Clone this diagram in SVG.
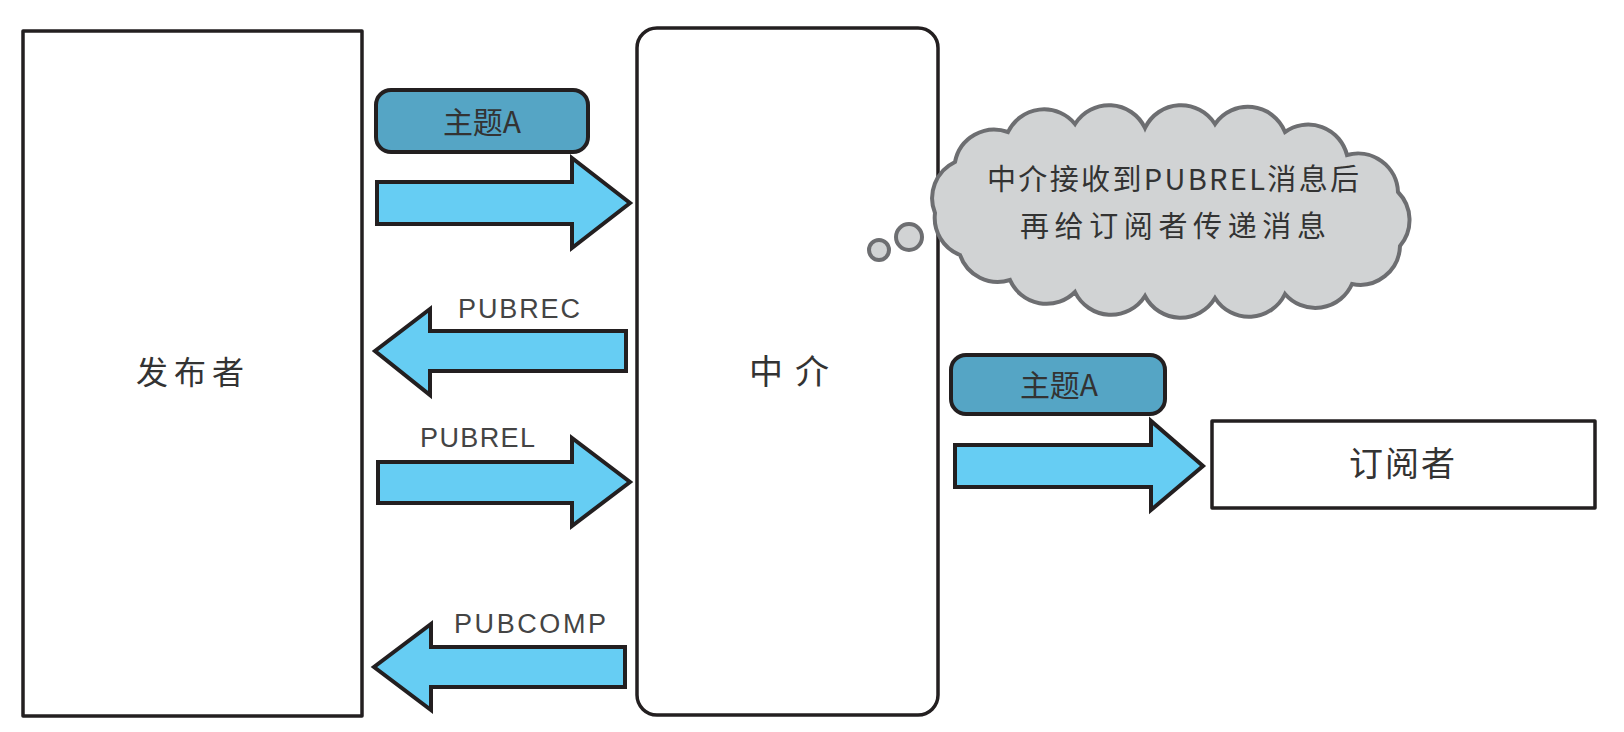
<svg xmlns="http://www.w3.org/2000/svg" width="1624" height="732" viewBox="0 0 1624 732">
<style>
.box{fill:#fff;stroke:#231f20;stroke-width:3.5;stroke-linejoin:round}
.arrow{fill:#66cdf3;stroke:#231f20;stroke-width:4;stroke-linejoin:miter}
.tag{fill:#55a5c5;stroke:#231f20;stroke-width:4}
.cjk{font-family:"Noto Sans CJK SC","Liberation Sans",sans-serif;fill:#333;text-anchor:middle}
.lat{font-family:"Liberation Sans","Noto Sans",sans-serif;fill:#444;font-size:27px}
.cloud{fill:#d1d3d4;stroke:#6d6e71;stroke-width:4}
</style>
<rect width="1624" height="732" fill="#fff"/>
<g id="publisher">
<rect class="box" x="23" y="31" width="339" height="685"/>
<text class="cjk" x="190" y="384" font-size="32" textLength="108" lengthAdjust="spacing">发布者</text>
</g>
<g id="broker">
<rect class="box" x="637" y="28" width="301" height="687" rx="20" ry="20"/>
<text class="cjk" x="789" y="384" font-size="34" textLength="80" lengthAdjust="spacing">中介</text>
</g>
<g id="subscriber">
<rect class="box" x="1212" y="421" width="383" height="87"/>
<text class="cjk" x="1402" y="476" font-size="34" textLength="106" lengthAdjust="spacing">订阅者</text>
</g>
<g id="thought">
<circle class="cloud" cx="879" cy="250" r="10"/>
<circle class="cloud" cx="909" cy="237" r="13"/>
<path class="cloud" d="M935,213 A40,40 0 0 1 955,162 A40,40 0 0 1 1008,132 A40,40 0 0 1 1075,124 A40,40 0 0 1 1145,128 A40,40 0 0 1 1215,124 A40,40 0 0 1 1285,132 A40,40 0 0 1 1347,155 A40,40 0 0 1 1398,192 A40,40 0 0 1 1400,246 A40,40 0 0 1 1352,284 A40,40 0 0 1 1285,294 A40,40 0 0 1 1215,298 A40,40 0 0 1 1145,296 A40,40 0 0 1 1075,292 A40,40 0 0 1 1010,280 A40,40 0 0 1 960,255 A40,40 0 0 1 935,213 Z"/>
<text class="cjk" x="1173" y="190" font-size="29" textLength="372" lengthAdjust="spacing">中介接收到PUBREL消息后</text>
<text class="cjk" x="1173" y="237" font-size="29" textLength="306" lengthAdjust="spacing">再给订阅者传递消息</text>
</g>
<g id="topicA1">
<rect class="tag" x="376" y="90" width="212" height="62" rx="15" ry="15"/>
<text class="cjk" x="482" y="133" font-size="30">主题A</text>
</g>
<g id="topicA2">
<rect class="tag" x="951" y="355" width="214" height="59" rx="15" ry="15"/>
<text class="cjk" x="1059" y="396" font-size="30">主题A</text>
</g>
<g id="connectors">
<polygon class="arrow" points="377,182 572,182 572,158 630,203 572,248 572,224 377,224"/>
<polygon class="arrow" points="626,331 430,331 430,309 375,351 430,395 430,371 626,371"/>
<polygon class="arrow" points="378,462 572,462 572,438 630,482 572,526 572,503 378,503"/>
<polygon class="arrow" points="625,647 431,647 431,624 374,667 431,710 431,687 625,687"/>
<polygon class="arrow" points="955,445 1151,445 1151,421 1203,466 1151,510 1151,487 955,487"/>
<text class="lat" x="458" y="318" textLength="122" lengthAdjust="spacing">PUBREC</text>
<text class="lat" x="420" y="447" textLength="115" lengthAdjust="spacing">PUBREL</text>
<text class="lat" x="454" y="633" textLength="152" lengthAdjust="spacing">PUBCOMP</text>
</g>
</svg>
